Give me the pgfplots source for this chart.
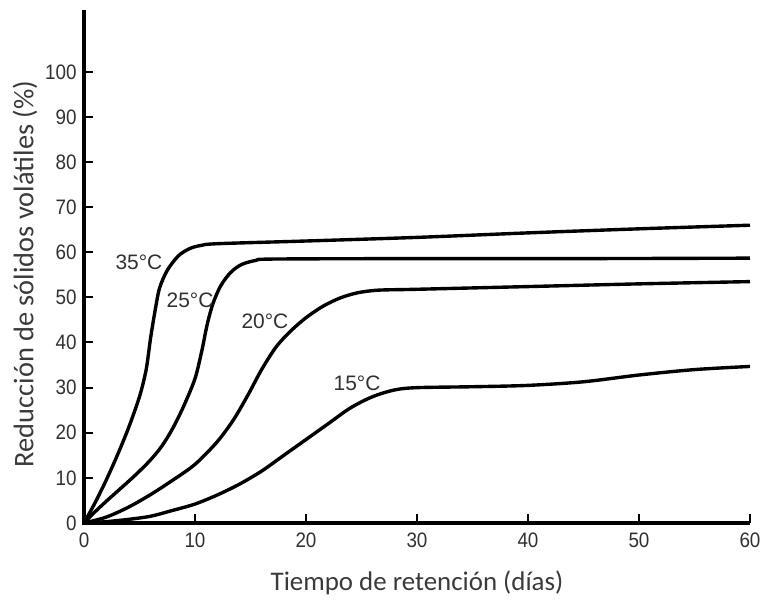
\documentclass[border=0pt]{standalone}
\usepackage{pgfplots}
\pgfplotsset{compat=1.18}
\usepackage{fontspec}
\setmainfont{Liberation Sans}
\newfontfamily\tickfont[FakeStretch=0.9]{Liberation Sans}
\newfontfamily\labfont{Carlito}
\definecolor{labcol}{HTML}{3A3A3A}
\definecolor{tickcol}{HTML}{303030}
\tikzset{curve/.style={black, line width=3.4pt, smooth, tension=0.5, mark=none}}
\begin{document}
\begin{tikzpicture}
\path[use as bounding box] (-84bp,-84bp) rectangle (677bp,523bp);
\begin{axis}[
  at={(0,0)}, anchor=south west,
  scale only axis, width=666bp, height=513bp,
  xmin=0, xmax=60, ymin=0, ymax=113.7,
  axis lines*=left,
  axis line style={draw=none},
  major tick length=0pt,
  xtick={0,10,20,30,40,50,60}, ytick={0,10,20,30,40,50,60,70,80,90,100},
  xticklabels={0,10,20,30,40,50,60},
  yticklabels={0,10,20,30,40,50,60,70,80,90,100},
  xticklabel style={font=\fontsize{21}{24}\tickfont, text=tickcol, yshift=-6bp},
  yticklabel style={font=\fontsize{21}{24}\tickfont, text=tickcol, xshift=-4bp},
  clip=false,
]
\addplot[curve] coordinates {(0,0) (1,4.5) (2,9.5) (3,15) (4,21) (5,28) (5.6,34) (6,41) (6.4,47) (6.8,52) (7.5,56) (8.5,59.2) (9.5,60.8) (10.5,61.5) (12,61.9) (20,62.5) (30,63.3) (40,64.3) (50,65.2) (60,66)};
\addplot[curve] coordinates {(0,0) (1,2.5) (2,4.8) (3,7) (4,9.2) (5,11.5) (6,14) (7,17) (8,21) (9,26) (10,32) (10.6,38) (11.1,44) (11.6,48.5) (12.3,52.5) (13.2,55.5) (14.2,57.3) (15.5,58.2) (17,58.5) (30,58.6) (45,58.6) (60,58.7)};
\addplot[curve] coordinates {(0,0) (2,1.3) (4,3.5) (6,6.3) (8,9.5) (10,13) (12,18) (13.5,23) (14.8,28.5) (16,34) (17.3,39) (18.6,42.5) (20,45.5) (21.5,48) (23,49.8) (24.6,51) (26.5,51.6) (30,51.8) (40,52.4) (50,53) (60,53.5)};
\addplot[curve] coordinates {(0,0) (2,0.3) (4,0.8) (6,1.5) (8,2.8) (10,4.2) (12,6.2) (14,8.6) (16,11.5) (18,15) (20,18.5) (22,22) (24,25.5) (26,28) (28,29.5) (30,30) (35,30.2) (40,30.5) (45,31.3) (50,32.8) (55,34) (60,34.7)};
\node[font=\fontsize{21}{24}\selectfont, text=tickcol] at (axis cs:4.95,57.8) {35°C};
\node[font=\fontsize{21}{24}\selectfont, text=tickcol] at (axis cs:9.55,49.4) {25°C};
\node[font=\fontsize{21}{24}\selectfont, text=tickcol] at (axis cs:16.3,44.6) {20°C};
\node[font=\fontsize{21}{24}\selectfont, text=tickcol] at (axis cs:24.6,31.0) {15°C};
\node[font=\fontsize{27}{30}\labfont, text=labcol] at ([yshift=-60bp]axis cs:30,0) {Tiempo de retención (días)};
\node[font=\fontsize{28.5}{31}\labfont, text=labcol, rotate=90] at ([xshift=-59bp]axis cs:0,55.2) {Reducción de sólidos volátiles (\%)};
\end{axis}
\foreach \i in {1,...,6} {\draw[line width=2bp, black] (\i*111bp,0) -- ++(0,9bp);}
\foreach \i in {1,...,10} {\draw[line width=2bp, black] (0,\i*45.13bp) -- ++(9bp,0);}
\draw[line width=3.6bp, black] (0,513bp) -- (0,0) -- (666bp,0);
\end{tikzpicture}
\end{document}
